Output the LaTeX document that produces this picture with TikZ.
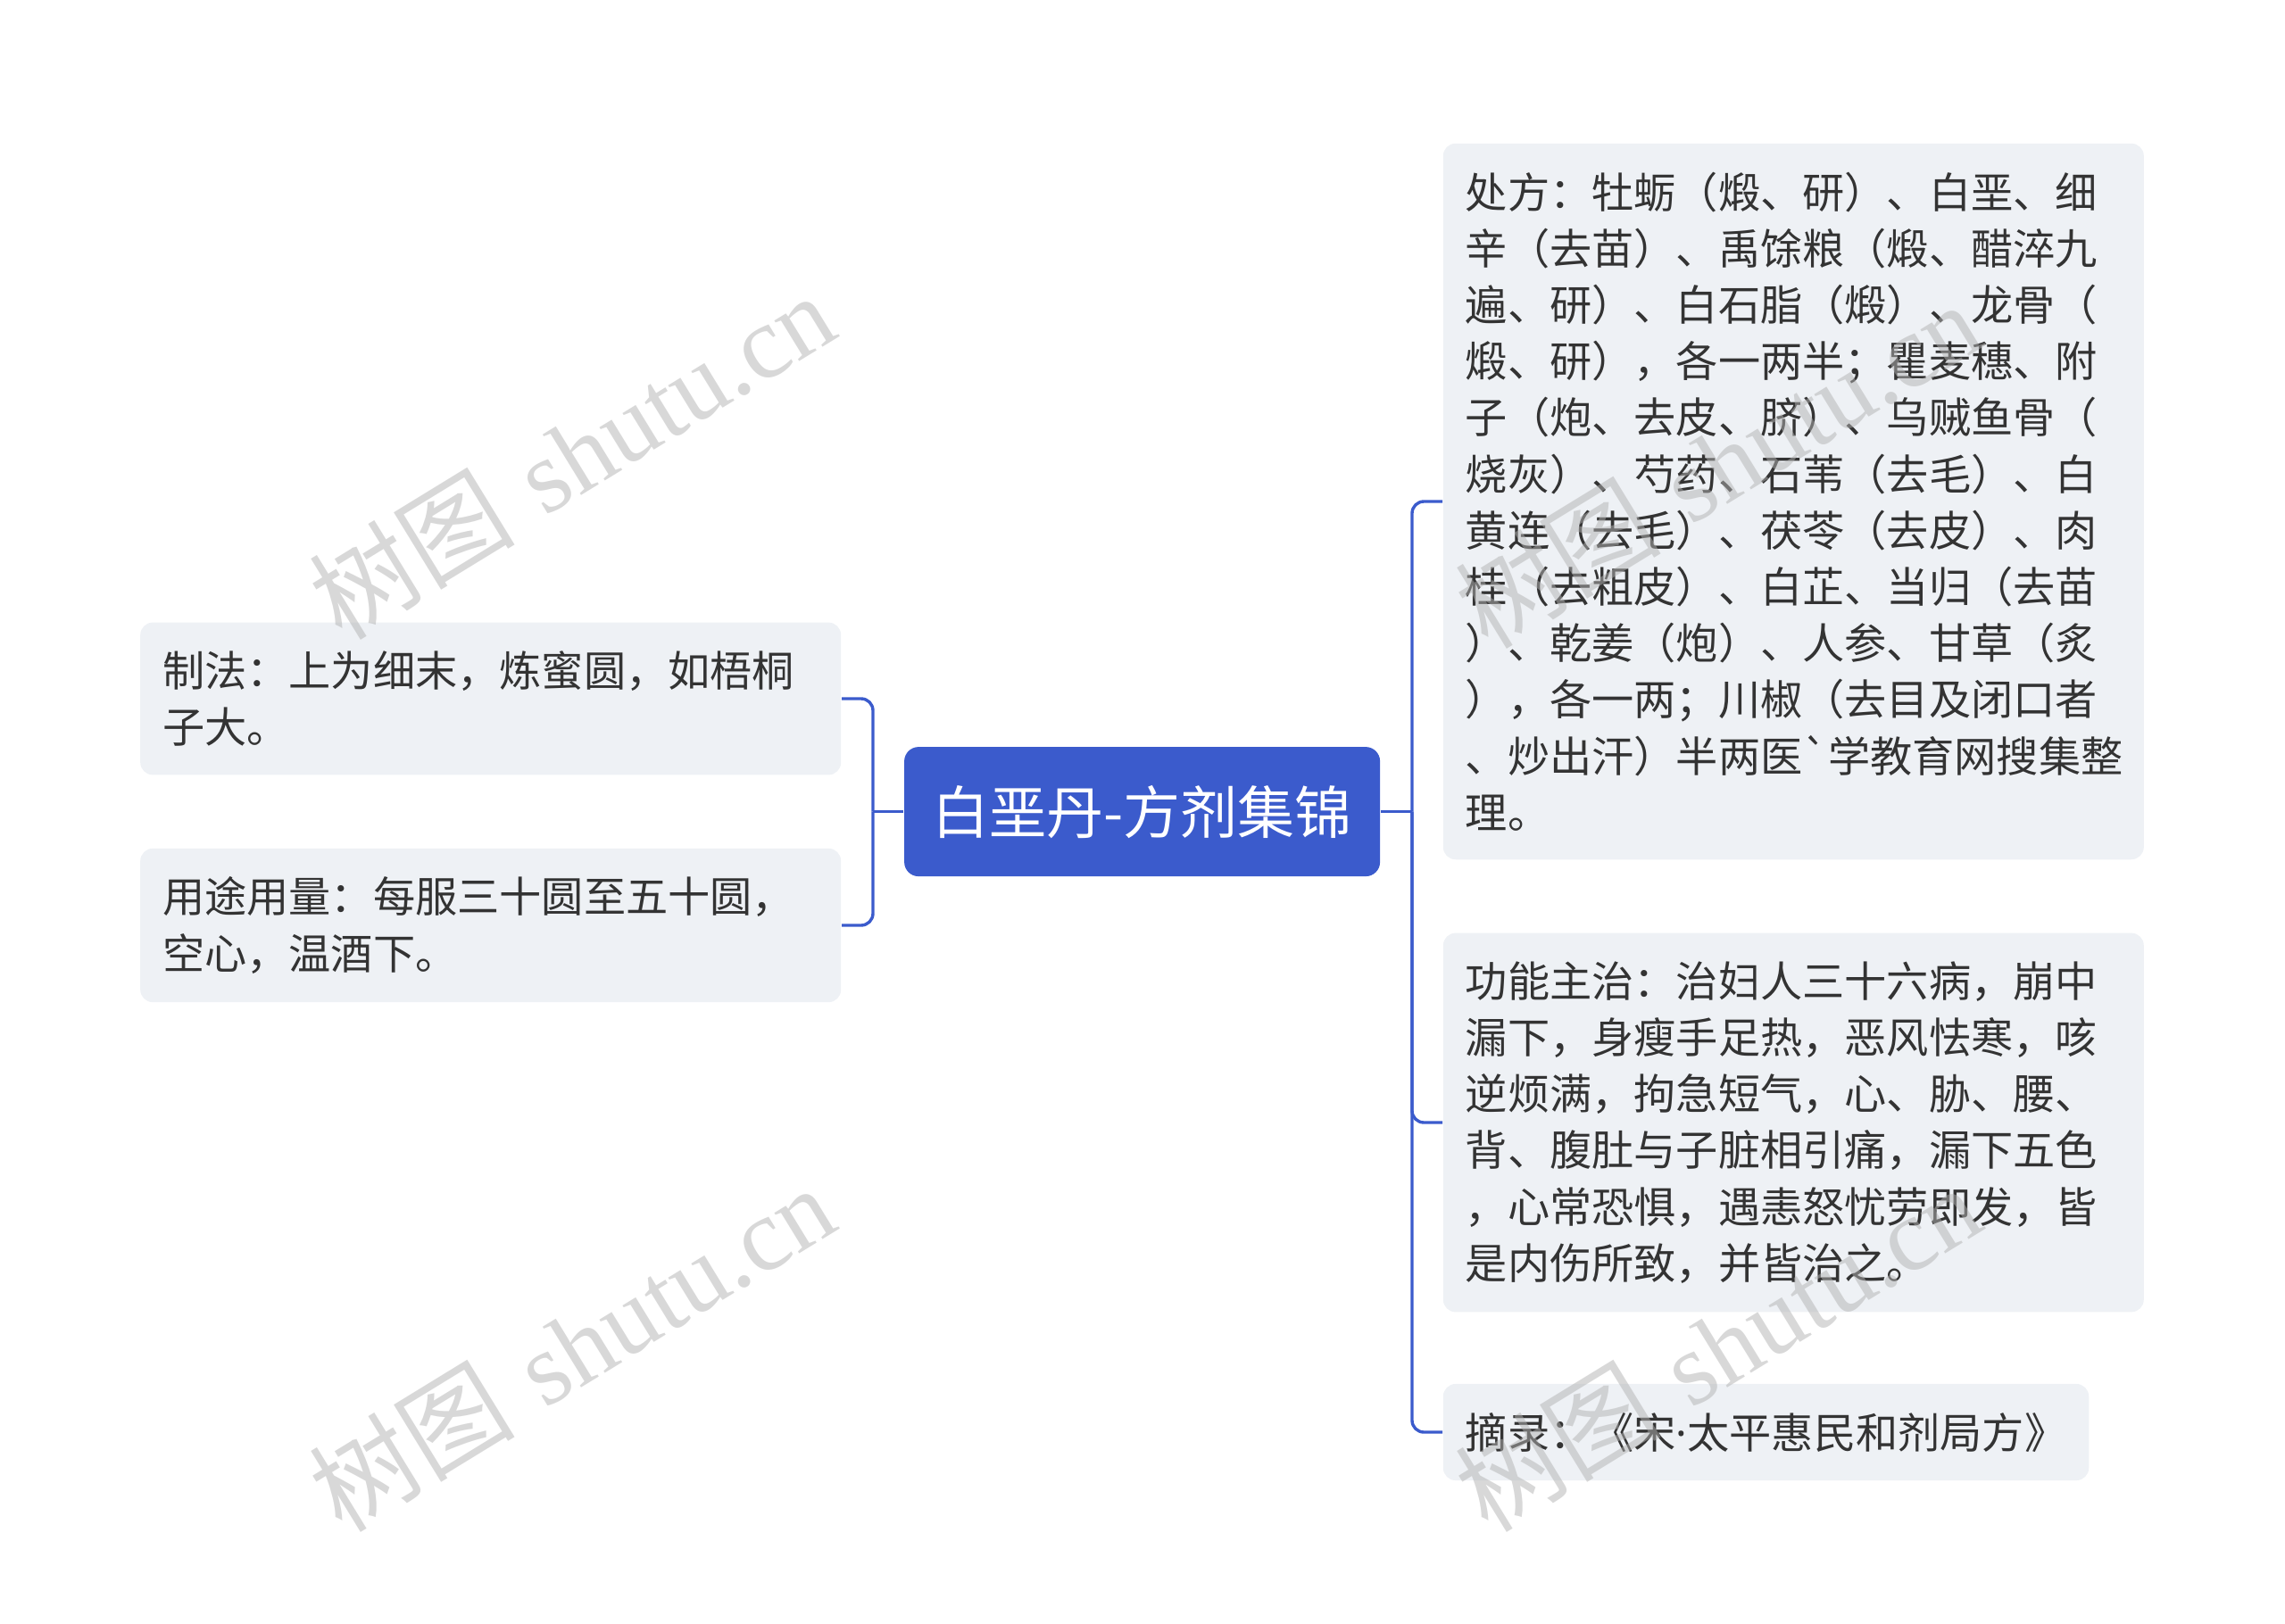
\documentclass[tikz,border=0pt]{standalone}
\usepackage{fontspec}
\usepackage{xcolor}
\usepackage{tikz}
\newfontfamily\cjk{Noto Sans CJK SC}
\newfontfamily\latin{Noto Sans}
\newfontfamily\wmlatin{Liberation Serif}
\definecolor{linkblue}{RGB}{59,91,204}
\definecolor{boxgray}{RGB}{238,241,245}
\definecolor{txt}{RGB}{51,51,51}

\begin{document}
\begin{tikzpicture}
    \def\lx{244.5pt}
    \def\rx{395.5pt}

    \useasboundingbox (0,0) rectangle (640pt,-455pt);

    \tikzstyle{root}=[fill=linkblue,text=white,rounded corners=4pt,minimum width=133.25pt,minimum height=36.25pt,inner sep=0pt,font=\cjk\fontsize{16}{20}\selectfont]
    \tikzstyle{leaf}=[fill=boxgray,text=txt,rounded corners=3.5pt,inner xsep=6.25pt,inner ysep=8pt,align=left,font=\cjk\fontsize{11.8}{15.8}\selectfont]
    \tikzstyle{wide}=[leaf,text width=183.75pt]
    \tikzstyle{wmark}=[text=gray!60,opacity=0.5,rotate=31.5,font=\fontsize{29}{29}\selectfont]

    \node[root]  (baie) at (319.9pt,-227.4pt) {白垩丹-方剂集锦};

    \node[wide,anchor=east]  (zhifa) at (235.75pt,-195.75pt) {制法：上为细末，炼蜜圆，如梧桐\\子大。};
    \node[wide,anchor=east]  (yongtu) at (235.75pt,-259.25pt) {用途用量：每服三十圆至五十圆，\\空心，温酒下。};

    \node[wide,anchor=west]  (chufang) at (404pt,-140.5pt) {处方：牡蛎（煅、研）、白垩、细\\辛（去苗）、禹馀粮（煅、醋淬九\\遍、研）、白石脂（煅）、龙骨（\\煅、研），各一两半；瞿麦穗、附\\子（炮、去皮、脐）、乌贼鱼骨（\\烧灰）、芍药、石苇（去毛）、白\\黄连（去毛）、茯苓（去皮）、肉\\桂（去粗皮）、白芷、当归（去苗\\）、乾姜（炮）、人参、甘草（炙\\），各一两；川椒（去目及闭口者\\、炒出汗）半两医`学教育网搜集整\\理。};
    \node[wide,anchor=west]  (gongneng) at (404pt,-314.5pt) {功能主治：治妇人三十六病，崩中\\漏下，身瘦手足热，恶风怯寒，咳\\逆烦满，拘急短气，心、胁、腰、\\背、腹肚与子脏相引痛，漏下五色\\，心常恐惧，遇恚怒忧劳即发，皆\\是内伤所致，并皆治之。};
    \node[leaf,anchor=west]  (zhailu) at (404pt,-401.25pt) {摘录：《宋{\latin ·}太平惠民和剂局方》};

    \coordinate (lj) at (\lx,-227.4pt);
    \coordinate (rj) at (\rx,-227.4pt);

    \tikzstyle{link} = [draw=linkblue, line width=0.85pt, rounded corners=3.3pt]

          \draw [link] (baie.west) -- (lj);
          \draw [link] (lj) |- (zhifa.east);
          \draw [link] (lj) |- (yongtu.east);
          \draw [link] (baie.east) -- (rj);
          \draw [link] (rj) |- (chufang.west);
          \draw [link] (rj) |- (gongneng.west);
          \draw [link] (rj) |- (zhailu.west);

    \node[wmark]  (wm1) at (160pt,-127.5pt) {{\cjk 树图} \wmlatin shutu.cn};
    \node[wmark]  (wm2) at (160pt,-377.5pt) {{\cjk 树图} \wmlatin shutu.cn};
    \node[wmark]  (wm3) at (481pt,-130pt) {{\cjk 树图} \wmlatin shutu.cn};
    \node[wmark]  (wm4) at (481pt,-377.5pt) {{\cjk 树图} \wmlatin shutu.cn};

  \end{tikzpicture}
\end{document}
